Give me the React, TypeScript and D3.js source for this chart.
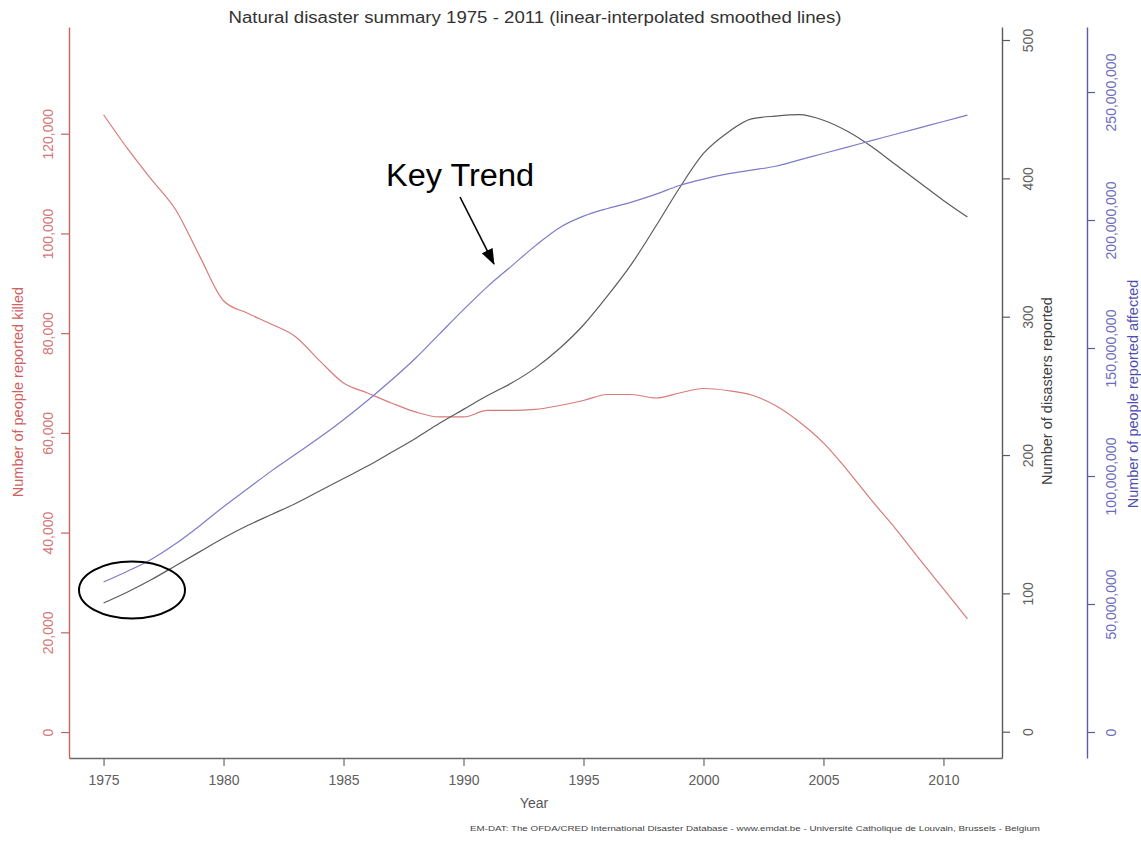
import React, { useEffect, useRef } from 'react';
import * as d3 from 'd3';

// yearly values
const years = [1975, 1976, 1977, 1978, 1979, 1980, 1981, 1982, 1983, 1984, 1985, 1986, 1987, 1988, 1989, 1990, 1991, 1992, 1993, 1994, 1995, 1996, 1997, 1998, 1999, 2000, 2001, 2002, 2003, 2004, 2005, 2006, 2007, 2008, 2009, 2010, 2011];
const killed = [123800, 117000, 110800, 104800, 95500, 86500, 84000, 81800, 79300, 74500, 70000, 68000, 66000, 64200, 63200, 63200, 64500, 64500, 64700, 65500, 66500, 67700, 67700, 67000, 68000, 68900, 68500, 67600, 65500, 62200, 58000, 52500, 46500, 40800, 34700, 28700, 22700];
const disasters = [93, 101, 110, 120, 130, 140, 149, 157, 165, 174, 183, 192, 202, 212, 223, 233, 243, 252, 263, 277, 294, 315, 338, 365, 393, 418, 433, 443, 445, 446, 442, 434, 423, 410, 397, 384, 372];
const affected = [58.6e6, 62.8e6, 67.5e6, 73.5e6, 80.5e6, 88e6, 95e6, 102e6, 108.5e6, 115e6, 122e6, 129.5e6, 137.5e6, 146e6, 155.5e6, 165e6, 174e6, 182e6, 190e6, 197e6, 201.5e6, 204.5e6, 207e6, 210e6, 213.5e6, 216e6, 218e6, 219.5e6, 221e6, 223.5e6, 226e6, 228.5e6, 231e6, 233.5e6, 236e6, 238.5e6, 241e6];

const yearTicks = [1975, 1980, 1985, 1990, 1995, 2000, 2005, 2010];
const killedTicks = [0, 20000, 40000, 60000, 80000, 100000, 120000];
const disasterTicks = [0, 100, 200, 300, 400, 500];
const affectedTicks = [0, 50e6, 100e6, 150e6, 200e6, 250e6];

const FONT = '"Liberation Sans", Arial, Helvetica, sans-serif';

const App = () => {
  const ref = useRef<SVGSVGElement>(null);

  useEffect(() => {
    const svg = d3.select(ref.current);
    svg.selectAll('*').remove();

    const x = d3.scaleLinear().domain([1973.56, 2012.44]).range([69, 1002]);
    const yK = d3.scaleLinear().domain([-5200, 141400]).range([758, 27]);
    const yD = d3.scaleLinear().domain([-19, 509.4]).range([758, 27]);
    const yA = d3.scaleLinear().domain([-10.16e6, 275.4e6]).range([758, 27]);

    const fmt = d3.format(',');

    // style helper for the axes
    const styleAxis = (g: any, line: string, text: string) => {
      g.select('.domain').attr('stroke', line).attr('stroke-width', 1.4);
      g.selectAll('.tick line').attr('stroke', line).attr('stroke-width', 1.2);
      g.selectAll('.tick text')
        .attr('fill', text)
        .style('font-family', FONT)
        .style('font-size', '14px');
    };

    // bottom axis
    const gx = svg.append('g')
      .attr('transform', 'translate(0,758)')
      .call(d3.axisBottom(x).tickValues(yearTicks).tickSize(8).tickSizeOuter(0).tickPadding(9).tickFormat(d3.format('d')));
    styleAxis(gx, '#6a6a6a', '#606060');

    // left axis - killed
    const gk = svg.append('g')
      .attr('transform', 'translate(69,0)')
      .call(d3.axisLeft(yK).tickValues(killedTicks).tickSize(8).tickSizeOuter(0).tickFormat(fmt));
    styleAxis(gk, '#c06464', '#d57676');
    gk.selectAll('.tick text')
      .attr('transform', 'rotate(-90)')
      .attr('x', 0).attr('y', -16).attr('dy', 0)
      .attr('text-anchor', 'middle');

    // right axis - disasters
    const gd = svg.append('g')
      .attr('transform', 'translate(1002,0)')
      .call(d3.axisRight(yD).tickValues(disasterTicks).tickSize(8).tickSizeOuter(0));
    styleAxis(gd, '#5a5a5a', '#606060');
    gd.selectAll('.tick text')
      .attr('transform', 'rotate(-90)')
      .attr('x', 0).attr('y', 31).attr('dy', 0)
      .attr('text-anchor', 'middle');

    // outer right axis - affected
    const ga = svg.append('g')
      .attr('transform', 'translate(1087,0)')
      .call(d3.axisRight(yA).tickValues(affectedTicks).tickSize(8).tickSizeOuter(0).tickFormat(fmt));
    styleAxis(ga, '#5a5aa8', '#6c6cc0');
    ga.selectAll('.tick text')
      .attr('transform', 'rotate(-90)')
      .attr('x', 0).attr('y', 29).attr('dy', 0)
      .attr('text-anchor', 'middle');

    // lines
    const series = [
      { values: killed, y: yK, color: '#d97a7a' },
      { values: disasters, y: yD, color: '#5c5c5c' },
      { values: affected, y: yA, color: '#7c7cc8' },
    ];
    series.forEach(s => {
      const line = d3.line<number>()
        .x((_, i) => x(years[i]))
        .y(d => s.y(d))
        .curve(d3.curveMonotoneX);
      svg.append('path')
        .attr('d', line(s.values))
        .attr('fill', 'none')
        .attr('stroke', s.color)
        .attr('stroke-width', 1.2);
    });

    // titles
    svg.append('text')
      .attr('x', 535).attr('y', 23)
      .attr('text-anchor', 'middle')
      .attr('textLength', 613).attr('lengthAdjust', 'spacingAndGlyphs')
      .style('font-family', FONT).style('font-size', '16px')
      .attr('fill', '#333')
      .text('Natural disaster summary 1975 - 2011 (linear-interpolated smoothed lines)');

    svg.append('text')
      .attr('x', 534).attr('y', 808)
      .attr('text-anchor', 'middle')
      .style('font-family', FONT).style('font-size', '14px')
      .attr('fill', '#555')
      .text('Year');

    svg.append('text')
      .attr('transform', 'translate(23,392) rotate(-90)')
      .attr('text-anchor', 'middle')
      .style('font-family', FONT).style('font-size', '14.5px')
      .attr('fill', '#d06060')
      .text('Number of people reported killed');

    svg.append('text')
      .attr('transform', 'translate(1052,391) rotate(-90)')
      .attr('text-anchor', 'middle')
      .style('font-family', FONT).style('font-size', '14.5px')
      .attr('fill', '#404040')
      .text('Number of disasters reported');

    svg.append('text')
      .attr('transform', 'translate(1138,394) rotate(-90)')
      .attr('text-anchor', 'middle')
      .style('font-family', FONT).style('font-size', '14.5px')
      .attr('fill', '#5050b0')
      .text('Number of people reported affected');

    svg.append('text')
      .attr('x', 755).attr('y', 831)
      .attr('text-anchor', 'middle')
      .attr('textLength', 570).attr('lengthAdjust', 'spacingAndGlyphs')
      .style('font-family', FONT).style('font-size', '7.5px')
      .attr('fill', '#444')
      .text('EM-DAT: The OFDA/CRED International Disaster Database - www.emdat.be - Université Catholique de Louvain, Brussels - Belgium');

    // annotations
    svg.append('text')
      .attr('x', 386).attr('y', 186)
      .attr('textLength', 148).attr('lengthAdjust', 'spacingAndGlyphs')
      .style('font-family', FONT).style('font-size', '31px')
      .attr('fill', '#000')
      .text('Key Trend');

    const defs = svg.append('defs');
    defs.append('marker')
      .attr('id', 'arrowhead')
      .attr('markerUnits', 'userSpaceOnUse')
      .attr('markerWidth', 16).attr('markerHeight', 12)
      .attr('refX', 15).attr('refY', 6)
      .attr('orient', 'auto')
      .append('path')
      .attr('d', 'M0,0 L16,6 L0,12 Z')
      .attr('fill', '#000');

    svg.append('line')
      .attr('x1', 460).attr('y1', 197)
      .attr('x2', 494).attr('y2', 264)
      .attr('stroke', '#000').attr('stroke-width', 1.6)
      .attr('marker-end', 'url(#arrowhead)');

    svg.append('ellipse')
      .attr('cx', 132).attr('cy', 590)
      .attr('rx', 53).attr('ry', 28.5)
      .attr('fill', 'none')
      .attr('stroke', '#000').attr('stroke-width', 2);
  }, []);

  return (
    <svg
      ref={ref}
      width={1141}
      height={848}
      style={{ position: 'absolute', left: 0, top: 0, background: '#fff' }}
    />
  );
};

export default App;
